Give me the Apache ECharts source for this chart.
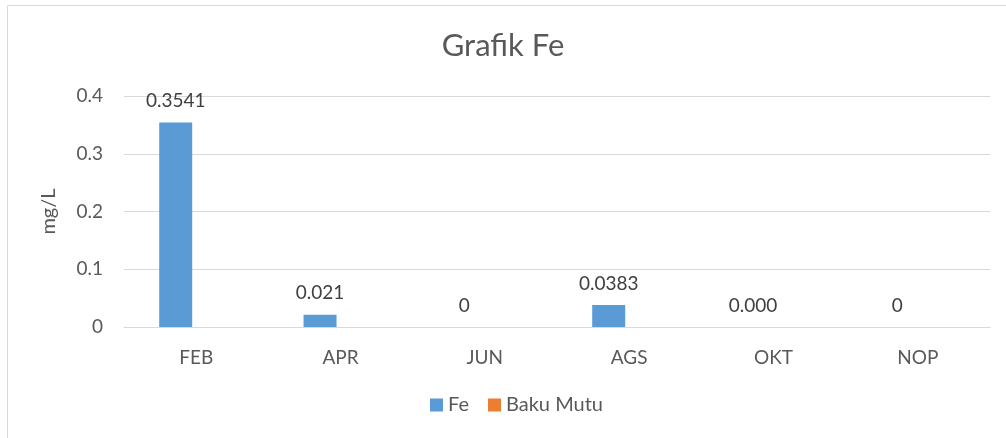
<!DOCTYPE html>
<html><head><meta charset="utf-8">
<script src="https://cdn.jsdelivr.net/npm/echarts@6/dist/echarts.min.js"></script>
<style>html,body{margin:0;padding:0;background:#fff}#c{width:1006px;height:438px}</style>
</head><body><div id="c"></div>
<script>
const categories = ['FEB', 'APR', 'JUN', 'AGS', 'OKT', 'NOP'];
const feValues = [0.3541, 0.021, 0, 0.0383, 0.000, 0];
const feLabels = ['0.3541', '0.021', '0', '0.0383', '0.000', '0'];
const bakuMutuValues = [null, null, null, null, null, null];
const yTicks = [0, 0.1, 0.2, 0.3, 0.4];

const FONT = 'Lato';
const chart = echarts.init(document.getElementById('c'), null, {renderer: 'canvas'});
chart.setOption({
  animation: false,
  textStyle: {fontFamily: FONT},
  title: {
    text: 'Grafik Fe', left: 'center', top: 25,
    textStyle: {fontFamily: FONT, fontSize: 31, fontWeight: 'normal', color: '#595959'}
  },
  graphic: [{
    type: 'rect', shape: {x: 7.5, y: 5.5, width: 1010, height: 440},
    style: {fill: 'none', stroke: '#d9d9d9', lineWidth: 1}, silent: true, z: -1
  }],
  legend: {
    data: ['Fe', 'Baku Mutu'], bottom: 18, left: 425,
    itemWidth: 13, itemHeight: 13, itemGap: 19, icon: 'rect',
    textStyle: {fontFamily: FONT, fontSize: 20, color: '#595959'}
  },
  grid: {left: 124, right: 16, top: 96, bottom: 111},
  xAxis: {
    type: 'category', data: categories,
    axisLine: {lineStyle: {color: '#d9d9d9', width: 1}},
    axisTick: {show: false},
    axisLabel: {fontFamily: FONT, fontSize: 19, color: '#595959', margin: 21}
  },
  yAxis: {
    type: 'value', min: 0, max: 0.4, interval: 0.1,
    name: 'mg/L', nameLocation: 'middle', nameGap: 65, nameRotate: 90,
    nameTextStyle: {fontFamily: FONT, fontSize: 20, color: '#595959'},
    axisLine: {show: false}, axisTick: {show: false},
    splitLine: {lineStyle: {color: '#d9d9d9', width: 1}},
    axisLabel: {fontFamily: FONT, fontSize: 19, color: '#595959', margin: 21,
      formatter: v => yTicks.includes(Math.round(v*10)/10) ? String(Math.round(v*10)/10) : ''}
  },
  series: [
    {
      name: 'Fe', type: 'bar', data: feValues, barWidth: 33, barGap: '24%',
      itemStyle: {color: '#5b9bd5'},
      label: {show: true, position: 'top', distance: 12, fontFamily: FONT, fontSize: 19, color: '#404040',
        formatter: p => feLabels[p.dataIndex]}
    },
    {
      name: 'Baku Mutu', type: 'bar', data: bakuMutuValues, barWidth: 33,
      itemStyle: {color: '#ed7d31'}
    }
  ]
});
</script></body></html>
